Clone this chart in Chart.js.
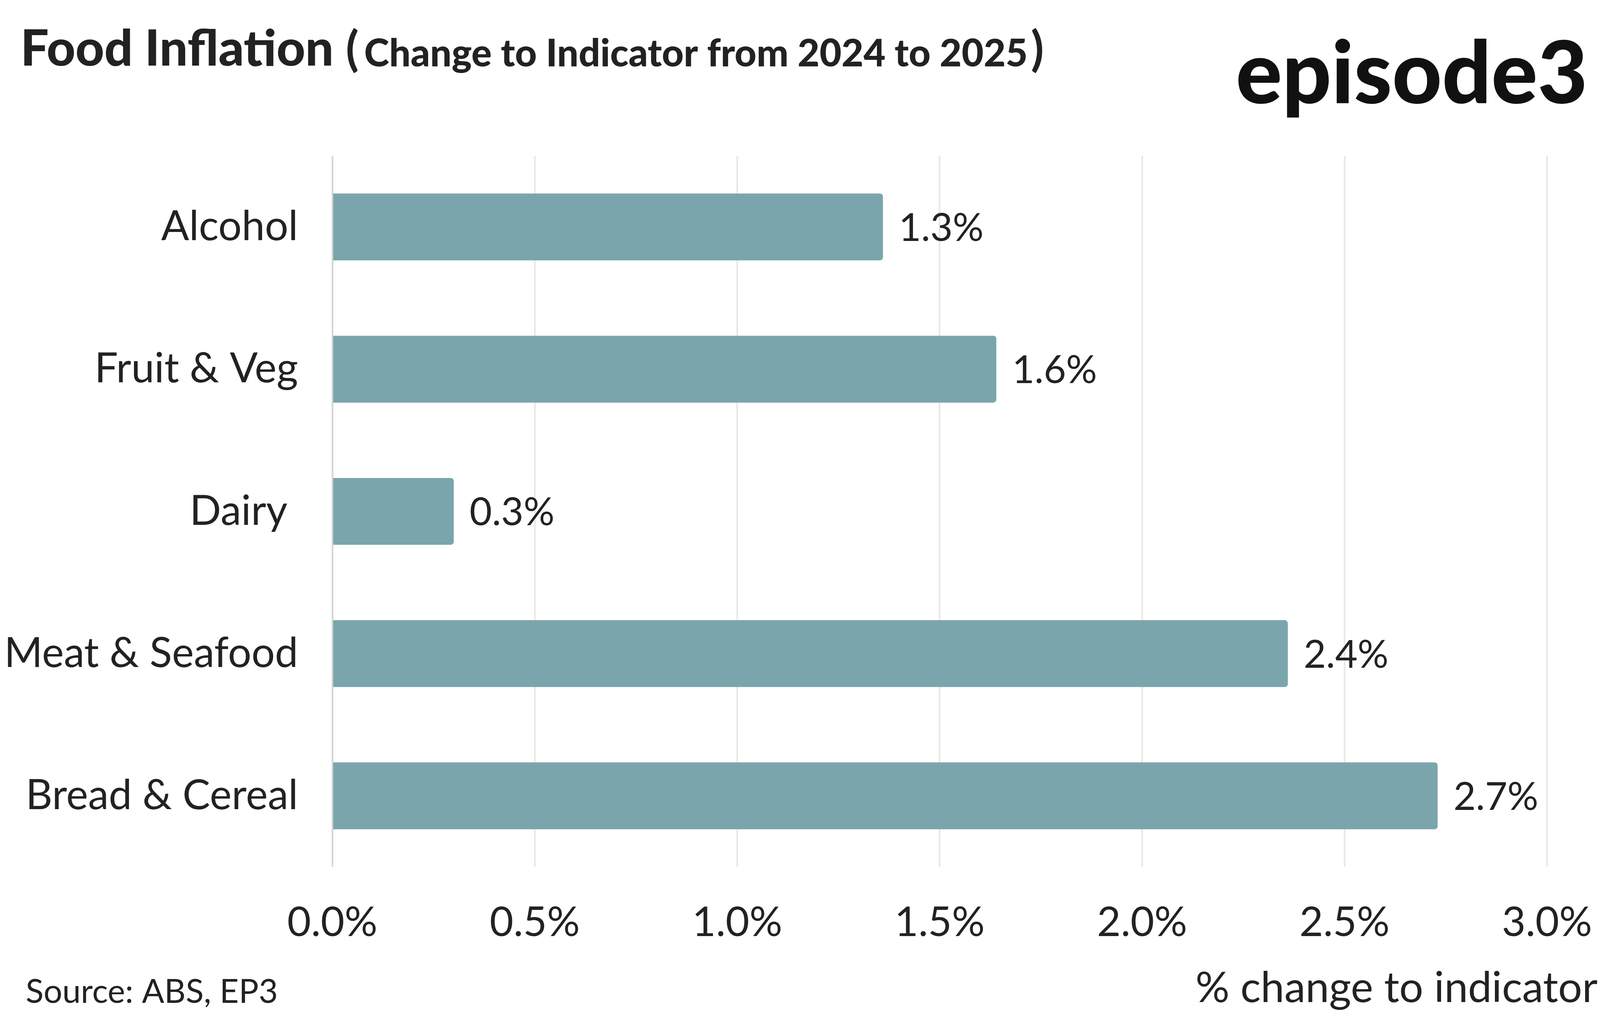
<!DOCTYPE html>
<html>
<head>
<meta charset="utf-8">
<script src="https://cdn.jsdelivr.net/npm/chart.js@4"></script>
<style>
  html, body { margin: 0; padding: 0; background: #fff; overflow: hidden; }
  #wrap { width: 100vw; height: 100vh; position: relative; }
</style>
</head>
<body>
<div id="wrap"><canvas id="plot"></canvas></div>
<script>
// data
const categories = ["Alcohol", "Fruit & Veg", "Dairy ", "Meat & Seafood", "Bread & Cereal"];
const changes = [1.36, 1.64, 0.30, 2.36, 2.73];
const valueLabels = ["1.3%", "1.6%", "0.3%", "2.4%", "2.7%"];
const xTicks = [0, 0.5, 1, 1.5, 2, 2.5, 3];

const textColor = "#222222";
const barColor = "#7BA5AD";
const bodyFont = "Lato";

// layout was measured on a 4675x2594 picture, the window may be narrower
const SX = window.innerWidth / 4675;
const SY = window.innerHeight / 2594;
const px = (v) => v * SX;
const py = (v) => v * SY;

// draw text so it spans the given width (measured on the reference)
function fitText(ctx, text, weight, x, y, width, align) {
  ctx.font = weight + " 100px " + bodyFont;
  let w = ctx.measureText(text).width;
  ctx.font = weight + " " + (100 * px(width) / w) + "px " + bodyFont;
  ctx.textAlign = align || "left";
  ctx.fillText(text, px(x), py(y));
}

const extras = {
  id: "extras",
  afterDatasetsDraw(chart) {
    const ctx = chart.ctx;
    ctx.save();
    ctx.fillStyle = textColor;
    ctx.textBaseline = "middle";
    ctx.textAlign = "left";
    ctx.font = "400 " + px(113) + "px " + bodyFont;
    let meta = chart.getDatasetMeta(0);
    meta.data.forEach((bar, i) => {
      ctx.fillText(valueLabels[i], bar.x + px(46), bar.y + py(4));
    });
    ctx.restore();
  },
  afterDraw(chart) {
    const ctx = chart.ctx;
    ctx.save();
    ctx.fillStyle = textColor;
    ctx.textBaseline = "alphabetic";

    // title
    fitText(ctx, "Food Inflation", "900", 60, 168, 915);
    ctx.font = "700 " + py(122) + "px " + bodyFont;
    ctx.textAlign = "left";
    ctx.fillText("(", px(1010), py(168));
    fitText(ctx, "Change to Indicator from 2024 to 2025", "900", 1064, 170, 1939);
    ctx.font = "700 " + py(122) + "px " + bodyFont;
    ctx.textAlign = "left";
    ctx.fillText(")", px(3012), py(168));

    // logo
    ctx.fillStyle = "#111111";
    fitText(ctx, "episode3", "900", 3611, 264, 1028);

    // footer
    ctx.fillStyle = textColor;
    fitText(ctx, "Source: ABS, EP3", "400", 75, 2568, 737);
    fitText(ctx, "% change to indicator", "400", 4668, 2566, 1175, "right");
    ctx.restore();
  }
};

const config = {
  type: "bar",
  data: {
    labels: categories,
    datasets: [{
      data: changes,
      backgroundColor: barColor,
      borderWidth: 0,
      borderRadius: px(9),
      borderSkipped: "start",
      categoryPercentage: 1,
      barPercentage: 0.47
    }]
  },
  options: {
    indexAxis: "y",
    responsive: true,
    maintainAspectRatio: false,
    animation: false,
    layout: { padding: { top: py(399), right: px(155), left: 0, bottom: 0 } },
    plugins: {
      legend: { display: false },
      tooltip: { enabled: false },
      title: { display: false }
    },
    scales: {
      x: {
        min: 0,
        max: 3,
        afterBuildTicks: (scale) => { scale.ticks = xTicks.map(v => ({ value: v })); },
        afterFit: (scale) => {
          scale.height = window.innerHeight - py(2220);
          scale.paddingLeft = 0;
          scale.paddingRight = 0;
        },
        border: { display: false },
        grid: {
          drawTicks: false,
          lineWidth: px(5),
          color: (c) => c.tick && c.tick.value === 0 ? "#d6d6d6" : "#e9e9e0"
        },
        ticks: {
          padding: py(80),
          color: textColor,
          font: { family: bodyFont, size: px(120), weight: "400" },
          callback: (v) => Number(v).toFixed(1) + "%"
        }
      },
      y: {
        afterFit: (scale) => { scale.width = px(971); },
        border: { display: false },
        grid: { display: false, drawTicks: false },
        ticks: {
          padding: px(100),
          color: textColor,
          font: { family: bodyFont, size: px(121), weight: "400" }
        }
      }
    }
  },
  plugins: [extras]
};

new Chart(document.getElementById("plot").getContext("2d"), config);
</script>
</body>
</html>
